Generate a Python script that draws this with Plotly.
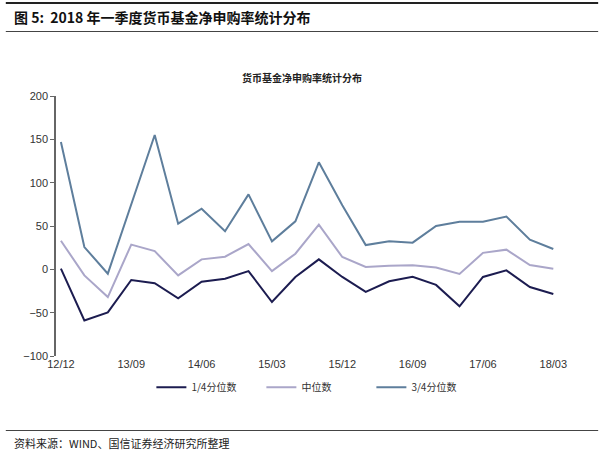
import plotly.graph_objects as go

quarters = ["12/12","13/03","13/06","13/09","13/12","14/03","14/06","14/09","14/12",
            "15/03","15/06","15/09","15/12","16/03","16/06","16/09","16/12","17/03",
            "17/06","17/09","17/12","18/03"]
q1 = [0.8,-59,-49.6,-12.3,-16,-33.5,-14.2,-10.8,-2,-37.7,-8.8,11.5,-8.8,-26,-13.8,-8.5,-18,-42.7,-8.8,-1.2,-20.4,-28.5]
median = [33,-7,-32,28.5,21,-7,11.5,14.6,29.2,-2,18,51.5,14.2,2.7,4.2,4.6,2,-5.4,19,22.7,5,0.8]
q3 = [147,25.7,-5,76,155,52.7,70,44,86.5,32.3,55.4,123.5,74,28,32.3,30.8,50,55,55,60.8,34.2,23.4]
tick_labels = ["12/12","13/09","14/06","15/03","15/12","16/09","17/06","18/03"]
y_ticks = [200,150,100,50,0,-50,-100]

idx = list(range(len(quarters)))
tick_idx = [quarters.index(t) for t in tick_labels]

series = [("1/4分位数", q1, "#1c1c50"), ("中位数", median, "#aaa6c9"), ("3/4分位数", q3, "#5e7e9c")]

fig = go.Figure()
for name, vals, col in series:
    fig.add_trace(go.Scatter(x=idx, y=vals, mode="lines", name=name,
                             line=dict(color=col, width=2)))

xr = [-0.21, 21.2]
fig.update_layout(
    width=600, height=453,
    margin=dict(l=56, r=42, t=96, b=97),
    paper_bgcolor="white", plot_bgcolor="white",
    font=dict(family="Arial, Liberation Sans, Noto Sans CJK SC", size=11, color="#333"),
    showlegend=True,
    legend=dict(orientation="h", x=0.19, y=-0.12, xanchor="left", yanchor="middle",
                font=dict(family="Noto Sans CJK SC", size=10, color="#333"),
                itemwidth=30, tracegroupgap=0, entrywidth=65, entrywidthmode="pixels"),
    xaxis=dict(range=xr, tickmode="array", tickvals=tick_idx, ticktext=tick_labels,
               showgrid=False, zeroline=False, showline=False, ticks="",
               tickfont=dict(size=11, color="#333")),
    xaxis2=dict(range=xr, overlaying="x", anchor="free", position=1/3,
                tickmode="array", tickvals=tick_idx, showticklabels=False,
                showgrid=False, zeroline=False, showline=True, linecolor="#666",
                linewidth=1.5, ticks="outside", ticklen=4, tickcolor="#666"),
    yaxis=dict(range=[-100, 200], tickmode="array", tickvals=y_ticks,
               showgrid=False, zeroline=False, showline=True, linecolor="#666",
               linewidth=1.5, ticks="outside", ticklen=4, tickcolor="#666",
               tickfont=dict(size=11, color="#333")),
)

# decorative rules
fig.add_shape(type="line", xref="paper", yref="paper", x0=-0.1, x1=1.08,
              y0=1+ (96-3)/260, y1=1+(96-3)/260, line=dict(color="#222", width=2))
fig.add_shape(type="line", xref="paper", yref="paper", x0=-0.1, x1=1.08,
              y0=1+(96-31.5)/260, y1=1+(96-31.5)/260, line=dict(color="#444", width=1.2))
fig.add_shape(type="line", xref="paper", yref="paper", x0=-0.1, x1=1.08,
              y0=-(430.5-356)/260, y1=-(430.5-356)/260, line=dict(color="#444", width=1.2))

fig.add_annotation(text="<b>图 5:  2018 年一季度货币基金净申购率统计分布</b>",
                   xref="paper", yref="paper", x=-(56-12)/502, y=1+(96-17)/260,
                   xanchor="left", yanchor="middle", showarrow=False,
                   font=dict(family="Noto Sans CJK SC", size=14, color="#111"))
fig.add_annotation(text="<b>货币基金净申购率统计分布</b>",
                   xref="paper", yref="paper", x=(302-56)/502, y=1+(96-77)/260,
                   xanchor="center", yanchor="middle", showarrow=False,
                   font=dict(family="Noto Sans CJK SC", size=10, color="#222"))
fig.add_annotation(text="资料来源：WIND、国信证券经济研究所整理",
                   xref="paper", yref="paper", x=-(56-12)/502, y=-(443-356)/260,
                   xanchor="left", yanchor="middle", showarrow=False,
                   font=dict(family="Noto Sans CJK SC", size=11, color="#222"))

fig.write_html("out.html")
